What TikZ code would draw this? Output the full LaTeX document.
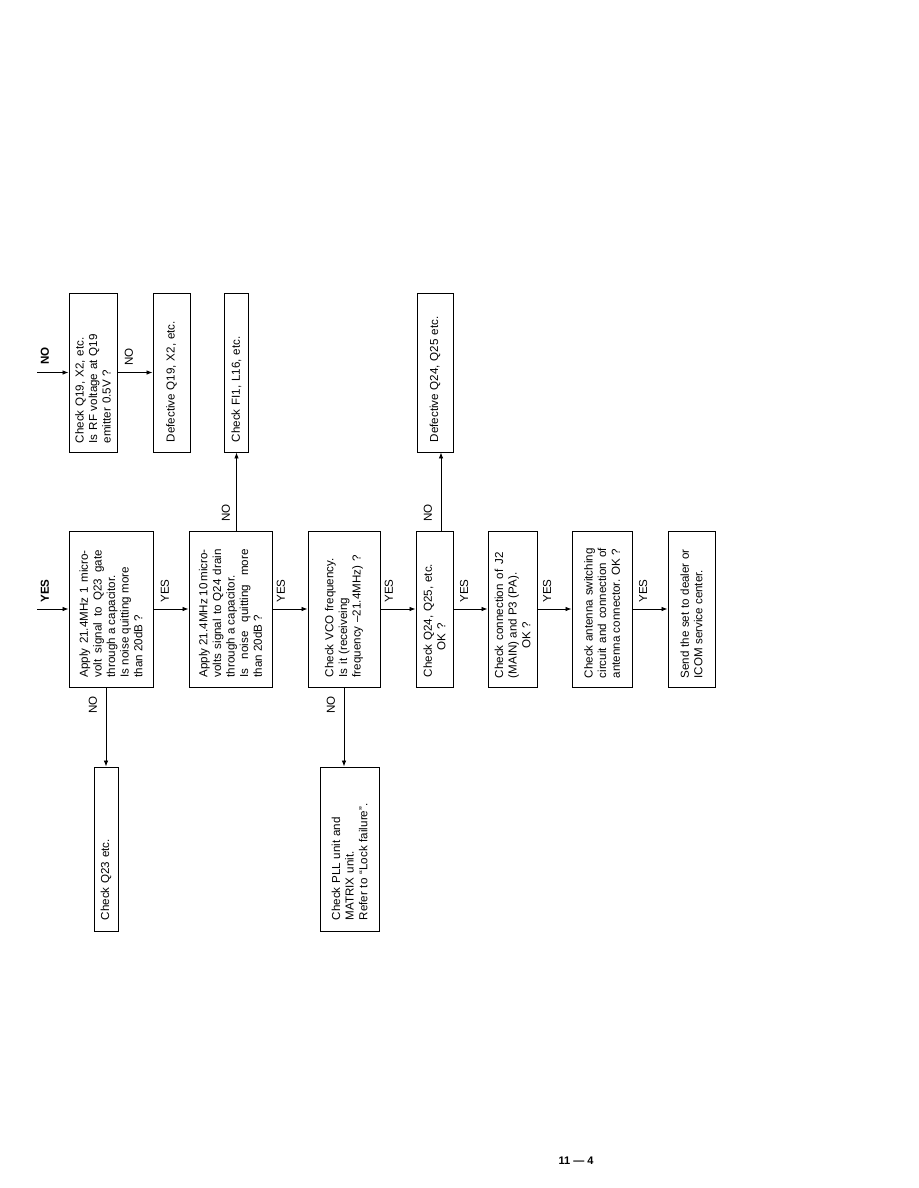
\documentclass[tikz,border=0pt]{standalone}
\usepackage{fontspec}
\setmainfont{Liberation Sans}
\usetikzlibrary{arrows.meta}
\begin{document}
\begin{tikzpicture}[x=1pt,y=-1pt,
  box/.style={draw, line width=0.9pt, inner sep=0pt},
  txt/.style={rotate=90, inner sep=0pt, anchor=west, font=\fontsize{11.6}{13.6}\selectfont, align=left},
  jtxt/.style={txt, align=justify},
  lbl/.style={rotate=90, inner sep=0pt, font=\fontsize{11.6}{14}\selectfont},
  arr/.style={line width=0.8pt, -{Latex[length=6pt,width=4.5pt]}}]
\useasboundingbox (0,0) rectangle (918,1188);

% boxes
\node[box, minimum width=48pt, minimum height=159pt] (A) at (93,372.5) {};
\node[box, minimum width=37pt, minimum height=159pt] (B) at (171.5,372.5) {};
\node[box, minimum width=24pt, minimum height=159pt] (C) at (236.5,372.5) {};
\node[box, minimum width=36pt, minimum height=159pt] (H) at (435,372.5) {};
\node[box, minimum width=84pt, minimum height=156pt] (D) at (111,609) {};
\node[box, minimum width=83pt, minimum height=156pt] (E) at (230.5,609) {};
\node[box, minimum width=72pt, minimum height=156pt] (F) at (344,609) {};
\node[box, minimum width=37pt, minimum height=156pt] (G) at (434.5,609) {};
\node[box, minimum width=49pt, minimum height=156pt] (I) at (512.5,609) {};
\node[box, minimum width=60pt, minimum height=156pt] (J) at (602,609) {};
\node[box, minimum width=47pt, minimum height=156pt] (K) at (691.5,609) {};
\node[box, minimum width=24pt, minimum height=164pt] (L) at (106,849) {};
\node[box, minimum width=59pt, minimum height=164pt] (M) at (349.5,849) {};

% texts
\node[txt, text width=150pt] (At) at ([yshift=9pt]A.south) {Check Q19, X2, etc.\\Is RF voltage at Q19\\emitter 0.5V ?};
\node[txt, text width=150pt] (Bt) at ([yshift=10pt]B.south) {Defective Q19, X2, etc.};
\node[txt, text width=150pt] (Ct) at ([yshift=10pt]C.south) {Check FI1, L16, etc.};
\node[txt, text width=150pt] (Ht) at ([yshift=10pt]H.south) {Defective Q24, Q25 etc.};
\node[jtxt, text width=127pt] (Dt) at ([yshift=10pt]D.south) {Apply 21.4MHz 1 micro-\linebreak volt signal to Q23 gate\linebreak through a capacitor.\\Is noise quitting more\\than 20dB ?};
\node[jtxt, text width=128pt] (Et) at ([yshift=10pt]E.south) {Apply 21.4MHz 10\,micro-\linebreak volts signal to Q24 drain\linebreak through a capacitor.\\Is noise quitting more\linebreak than 20dB ?};
\node[txt, text width=145pt] (Ft) at ([yshift=10pt]F.south) {Check VCO frequency.\\Is it (receiveing\\frequency –21.4MHz) ?};
\node[txt, text width=145pt] (Gt) at ([yshift=10pt]G.south) {Check Q24, Q25, etc.\\\hspace*{2.3em}OK ?};
\node[jtxt, text width=126pt] (It) at ([yshift=9pt]I.south) {Check connection of J2\linebreak (MAIN) and P3 (PA).\\\hspace*{2.6em}OK ?};
\node[jtxt, text width=130pt] (Jt) at ([yshift=9pt]J.south) {Check antenna switching\linebreak circuit and connection of\linebreak antenna connector. OK ?};
\node[jtxt, text width=129pt] (Kt) at ([yshift=9pt]K.south) {Send the set to dealer or\linebreak ICOM service center.};
\node[txt, text width=150pt] (Lt) at ([yshift=11pt]L.south) {Check Q23 etc.};
\node[txt, text width=150pt] (Mt) at ([yshift=11pt]M.south) {Check PLL unit and\\MATRIX unit.\\Refer to “Lock failure”.};

% entry points
\coordinate (inNO) at (37,372.5);
\coordinate (inYES) at (37,609);

% connectors
\draw[arr] (inNO) -- (A.west);
\draw[arr] (inYES) -- (D.west);
\draw[arr] (A.east) -- (B.west);
\draw[arr] (D.east) -- (E.west);
\draw[arr] (E.east) -- (F.west);
\draw[arr] (F.east) -- (G.west);
\draw[arr] (G.east) -- (I.west);
\draw[arr] (I.east) -- (J.west);
\draw[arr] (J.east) -- (K.west);
\draw[arr] (L.north |- D.south) -- (L.north);
\draw[arr] (C.south |- E.north) -- (C.south);
\draw[arr] (F.south) -- (F.south |- M.north);
\draw[arr] ([xshift=6.5pt]G.north) -- ([xshift=6pt]H.south);

% labels
\node[lbl, font=\bfseries\fontsize{11.6}{14}\selectfont] (n0) at (45,356) {NO};
\node[lbl, font=\bfseries\fontsize{11.6}{14}\selectfont] (y0) at (45,591) {YES};
\node[lbl] (nAB) at (129,357) {NO};
\node[lbl] (yDE) at (165,591) {YES};
\node[lbl] (yEF) at (281,591) {YES};
\node[lbl] (yFG) at (389,591) {YES};
\node[lbl] (yGI) at (464,591) {YES};
\node[lbl] (yIJ) at (547,591) {YES};
\node[lbl] (yJK) at (643,591) {YES};
\node[lbl] (nDL) at (93,705) {NO};
\node[lbl] (nFM) at (331,705) {NO};
\node[lbl] (nEC) at (226,513) {NO};
\node[lbl] (nGH) at (428,513) {NO};

% page number
\node[font=\bfseries\fontsize{11}{13}\selectfont] (pg) at (576,1161) {11 — 4};
\end{tikzpicture}
\end{document}
